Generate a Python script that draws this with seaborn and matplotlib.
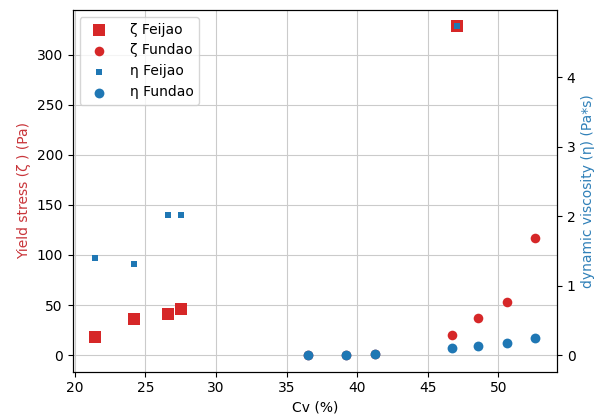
import matplotlib
matplotlib.use('Agg')
import matplotlib.pyplot as plt
import seaborn as sns

# values
cv_feijao = [21.4, 24.2, 26.6, 27.5, 47.1]
zeta_feijao = [18, 36, 41, 46, 328]
eta_feijao = [1.40, 1.31, 2.01, 2.01, 4.73]

cv_fundao = [36.5, 39.2, 41.3, 46.7, 48.6, 50.6, 52.6]
zeta_fundao = [0, 0, 0.7, 20, 37, 53, 117]
eta_fundao = [0.0, 0.0, 0.01, 0.10, 0.13, 0.17, 0.24]

red = 'tab:red'
blue = 'tab:blue'

fig, ax1 = plt.subplots(figsize=(5.95, 4.18), dpi=100)
fig.subplots_adjust(left=0.122, right=0.936, top=0.976, bottom=0.111)

# yield stress on the left axis
sns.scatterplot(x=cv_feijao, y=zeta_feijao, ax=ax1, color=red, marker='s',
                s=72, linewidth=0, label='ζ Feijao')
sns.scatterplot(x=cv_fundao, y=zeta_fundao, ax=ax1, color=red, marker='o',
                s=48, linewidth=0, label='ζ Fundao')
ax1.set_xlabel('Cv (%)')
ax1.set_ylabel('Yield stress (ζ ) (Pa)', color='#c9353a')
ax1.grid(True, color='#cbcbcb', linewidth=0.8)
ax1.set_axisbelow(True)

# viscosity on the right axis
ax2 = ax1.twinx()
sns.scatterplot(x=cv_feijao, y=eta_feijao, ax=ax2, color=blue, marker='s',
                s=20, linewidth=0, label='η Feijao')
sns.scatterplot(x=cv_fundao, y=eta_fundao, ax=ax2, color=blue, marker='o',
                s=50, linewidth=0, label='η Fundao')
ax2.set_ylabel('dynamic viscosity (η) (Pa*s)', color='#3080b8')
ax2.grid(False)

h1, l1 = ax1.get_legend_handles_labels()
h2, l2 = ax2.get_legend_handles_labels()
ax1.get_legend().remove()
ax2.get_legend().remove()
ax2.legend(h1 + h2, l1 + l2, loc='upper left', handletextpad=1.2)

fig.savefig('out.png', dpi=100)
